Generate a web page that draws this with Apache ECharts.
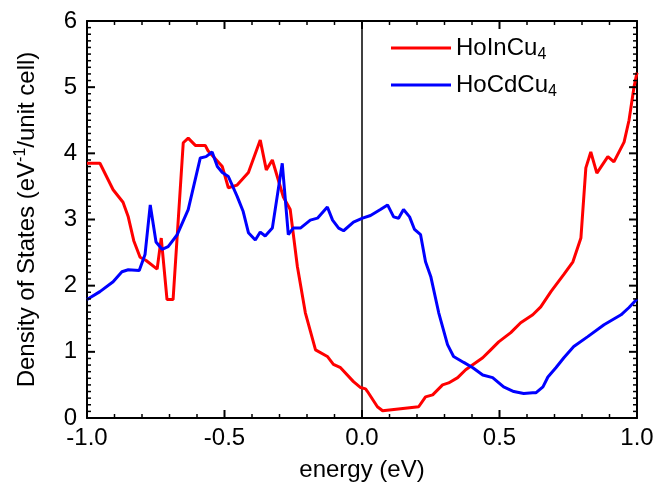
<!DOCTYPE html>
<html>
<head>
<meta charset="utf-8">
<script src="https://cdn.jsdelivr.net/npm/echarts@6/dist/echarts.min.js"></script>
<style>
  html, body { margin: 0; padding: 0; background: #fff; }
  #chart { width: 671px; height: 496px; }
</style>
</head>
<body>
<div id="chart"></div>
<script>
// Density of states vs energy, [energy (eV), DOS] pairs
const hoInCu4 = [
  [-1.000, 3.85], [-0.953, 3.85], [-0.905, 3.45], [-0.869, 3.26], [-0.850, 3.04],
  [-0.830, 2.68], [-0.807, 2.43], [-0.785, 2.38], [-0.745, 2.25], [-0.730, 2.72],
  [-0.709, 1.79], [-0.687, 1.79], [-0.650, 4.16], [-0.632, 4.23], [-0.606, 4.12],
  [-0.570, 4.12], [-0.560, 4.04], [-0.508, 3.80], [-0.486, 3.48], [-0.454, 3.52],
  [-0.413, 3.71], [-0.370, 4.20], [-0.348, 3.75], [-0.326, 3.90], [-0.286, 3.34],
  [-0.261, 3.15], [-0.235, 2.29], [-0.206, 1.59], [-0.169, 1.03], [-0.126, 0.93],
  [-0.104, 0.81], [-0.078, 0.76], [-0.031, 0.55], [-0.005, 0.46], [0.013, 0.44],
  [0.020, 0.40], [0.056, 0.17], [0.075, 0.11], [0.206, 0.17], [0.231, 0.32],
  [0.257, 0.35], [0.293, 0.50], [0.315, 0.53], [0.348, 0.61], [0.377, 0.73],
  [0.439, 0.91], [0.468, 1.03], [0.497, 1.15], [0.541, 1.29], [0.577, 1.44],
  [0.621, 1.56], [0.650, 1.68], [0.687, 1.91], [0.734, 2.17], [0.767, 2.36],
  [0.796, 2.72], [0.814, 3.78], [0.832, 4.02], [0.854, 3.70], [0.894, 3.95],
  [0.916, 3.87], [0.953, 4.17], [0.971, 4.50], [0.989, 5.00], [1.000, 5.22]
];
const hoCdCu4 = [
  [-1.000, 1.79], [-0.953, 1.91], [-0.905, 2.06], [-0.873, 2.21], [-0.850, 2.24],
  [-0.810, 2.23], [-0.789, 2.47], [-0.770, 3.22], [-0.749, 2.66], [-0.727, 2.55],
  [-0.705, 2.59], [-0.672, 2.77], [-0.632, 3.15], [-0.588, 3.93], [-0.567, 3.95],
  [-0.545, 4.02], [-0.526, 3.80], [-0.508, 3.71], [-0.486, 3.65], [-0.454, 3.35],
  [-0.432, 3.12], [-0.413, 2.80], [-0.388, 2.69], [-0.370, 2.81], [-0.352, 2.75],
  [-0.326, 2.87], [-0.290, 3.85], [-0.268, 2.77], [-0.250, 2.87], [-0.224, 2.87],
  [-0.188, 2.99], [-0.162, 3.02], [-0.126, 3.19], [-0.107, 2.99], [-0.085, 2.87],
  [-0.067, 2.83], [-0.031, 2.96], [0.002, 3.02], [0.031, 3.06], [0.067, 3.15],
  [0.093, 3.22], [0.115, 3.04], [0.133, 3.02], [0.151, 3.15], [0.173, 3.04],
  [0.191, 2.85], [0.213, 2.77], [0.231, 2.36], [0.250, 2.14], [0.279, 1.59],
  [0.311, 1.11], [0.333, 0.93], [0.370, 0.84], [0.403, 0.76], [0.439, 0.65],
  [0.475, 0.61], [0.515, 0.47], [0.552, 0.40], [0.588, 0.37], [0.621, 0.38],
  [0.632, 0.38], [0.658, 0.47], [0.676, 0.62], [0.705, 0.76], [0.734, 0.91],
  [0.770, 1.08], [0.821, 1.23], [0.880, 1.41], [0.942, 1.56], [0.971, 1.67],
  [1.000, 1.80]
];
// Fermi level marker at E = 0
const fermiLine = [[0, 0], [0, 6]];
const seriesNames = ['HoInCu4', 'HoCdCu4'];
const legendLabels = {
  HoInCu4: '{n|HoInCu}{s|4}',
  HoCdCu4: '{n|HoCdCu}{s|4}'
};
const xName = 'energy (eV)';
const yNameParts = ['Density of States (eV', '-1', '/unit cell)'];

// Axis ranges and tick positions (major ticks are labelled, minor every 0.1)
const xRange = [-1, 1];
const yRange = [0, 6];
const xMajorTicks = [-1, -0.5, 0, 0.5, 1];
const yMajorTicks = [0, 1, 2, 3, 4, 5, 6];
const minorStep = 0.1;

function tickList(range, majors) {
  const out = [];
  const n = Math.round((range[1] - range[0]) / minorStep);
  for (let i = 0; i <= n; i++) {
    const v = +(range[0] + i * minorStep).toFixed(6);
    const isMajor = majors.some(m => Math.abs(m - v) < 1e-6);
    out.push([v, isMajor ? 1 : 0]);
  }
  return out;
}
const xTicks = tickList(xRange, xMajorTicks);
const yTicks = tickList(yRange, yMajorTicks);

const font = 'Liberation Sans, Arial, sans-serif';
const chart = echarts.init(document.getElementById('chart'));

function frameAxis(position, range, interval, extra) {
  return Object.assign({
    type: 'value',
    position: position,
    min: range[0],
    max: range[1],
    interval: interval,
    axisLine: { show: true, onZero: false, lineStyle: { color: '#000', width: 2 } },
    axisTick: { show: false },
    minorTick: { show: false },
    splitLine: { show: false },
    axisLabel: { show: false }
  }, extra || {});
}

// Inward tick marks on both opposite sides of the frame
function tickSegment(p, dx, dy, major) {
  const len = major ? 8 : 4;
  return {
    type: 'line',
    shape: { x1: p[0], y1: p[1], x2: p[0] + dx * len, y2: p[1] + dy * len },
    style: { stroke: '#000', lineWidth: major ? 2 : 1.5 }
  };
}
function renderXTicks(params, api) {
  const v = api.value(0), major = api.value(1) === 1;
  return { type: 'group', children: [
    tickSegment(api.coord([v, yRange[0]]), 0, -1, major),
    tickSegment(api.coord([v, yRange[1]]), 0, 1, major)
  ] };
}
function renderYTicks(params, api) {
  const v = api.value(1), major = api.value(0) === 1;
  return { type: 'group', children: [
    tickSegment(api.coord([xRange[0], v]), 1, 0, major),
    tickSegment(api.coord([xRange[1], v]), -1, 0, major)
  ] };
}

chart.setOption({
  animation: false,
  backgroundColor: '#fff',
  grid: { left: 87, right: 34, top: 21, bottom: 78 },
  legend: {
    top: 28, left: 386, orient: 'vertical', itemGap: 7,
    itemWidth: 60, itemHeight: 3,
    icon: 'rect',
    data: seriesNames,
    formatter: name => legendLabels[name],
    textStyle: {
      rich: {
        n: { fontFamily: font, fontSize: 24, color: '#000', lineHeight: 28 },
        s: { fontFamily: font, fontSize: 16, color: '#000', lineHeight: 28, padding: [14, 0, 0, 0] }
      }
    }
  },
  xAxis: [
    frameAxis('bottom', xRange, 0.5, {
      axisLabel: { show: true, fontFamily: font, fontSize: 24, color: '#000', margin: 8,
        formatter: v => v.toFixed(1) },
      name: xName, nameLocation: 'middle', nameGap: 40,
      nameTextStyle: { fontFamily: font, fontSize: 24, color: '#000' }
    }),
    frameAxis('top', xRange, 0.5)
  ],
  yAxis: [
    frameAxis('left', yRange, 1, {
      axisLabel: { show: true, fontFamily: font, fontSize: 24, color: '#000', margin: 10 },
      name: '{n|' + yNameParts[0] + '}{s|' + yNameParts[1] + '}{n|' + yNameParts[2] + '}',
      nameLocation: 'middle', nameGap: 46, nameRotate: 90,
      nameTextStyle: {
        rich: {
          n: { fontFamily: font, fontSize: 24, color: '#000', lineHeight: 28 },
          s: { fontFamily: font, fontSize: 16, color: '#000', lineHeight: 28, padding: [0, 0, 12, 0] }
        }
      }
    }),
    frameAxis('right', yRange, 1)
  ],
  series: [
    {
      name: 'fermi', type: 'line', data: fermiLine, showSymbol: false, silent: true,
      lineStyle: { color: '#000', width: 1.5 }, itemStyle: { color: '#000' }, z: 2
    },
    {
      name: seriesNames[0], type: 'line', data: hoInCu4, showSymbol: false,
      lineStyle: { color: '#ff0000', width: 3 }, itemStyle: { color: '#ff0000' },
      z: 3
    },
    {
      name: seriesNames[1], type: 'line', data: hoCdCu4, showSymbol: false,
      lineStyle: { color: '#0000ff', width: 3 }, itemStyle: { color: '#0000ff' },
      z: 4
    },
    {
      name: 'xTicks', type: 'custom', data: xTicks, renderItem: renderXTicks,
      encode: { x: 0, y: 1 }, clip: false, silent: true, z: 5
    },
    {
      name: 'yTicks', type: 'custom', data: yTicks.map(t => [t[1], t[0]]), renderItem: renderYTicks,
      encode: { x: 0, y: 1 }, clip: false, silent: true, z: 5
    }
  ]
});
</script>
</body>
</html>
